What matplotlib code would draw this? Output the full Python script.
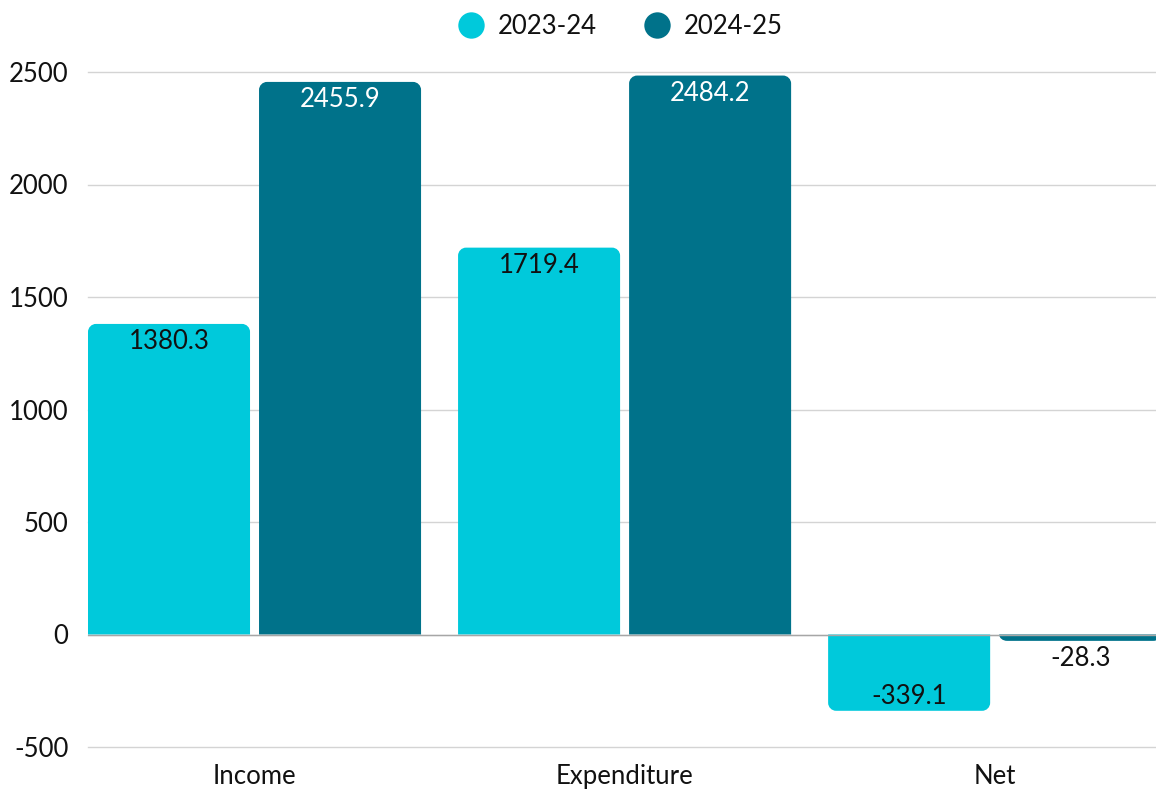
import numpy as np
import matplotlib.pyplot as plt
from matplotlib.path import Path
from matplotlib.patches import PathPatch
from matplotlib.lines import Line2D

plt.rcParams['font.family'] = ['Lato', 'DejaVu Sans']
plt.rcParams['axes.unicode_minus'] = False

categories = ['Income', 'Expenditure', 'Net']
series = ['2023-24', '2024-25']
values_2023 = [1380.3, 1719.4, -339.1]
values_2024 = [2455.9, 2484.2, -28.3]
colors = ['#00C9DB', '#00728A']
label_colors = ['#111111', '#ffffff']
FS = 18.5


def rounded_path(x0, x1, base, top, rx, ry):
    # rounded corners only at the far end of the bar
    s = 1 if top >= base else -1
    ry = min(ry, abs(top - base))
    k = 0.5523
    verts = [
        (x0, base),
        (x0, top - s * ry),
        (x0, top - s * ry * (1 - k)), (x0 + rx * (1 - k), top), (x0 + rx, top),
        (x1 - rx, top),
        (x1 - rx * (1 - k), top), (x1, top - s * ry * (1 - k)), (x1, top - s * ry),
        (x1, base),
        (x0, base),
    ]
    codes = [Path.MOVETO, Path.LINETO,
             Path.CURVE4, Path.CURVE4, Path.CURVE4,
             Path.LINETO,
             Path.CURVE4, Path.CURVE4, Path.CURVE4,
             Path.LINETO, Path.CLOSEPOLY]
    return Path(verts, codes)


fig = plt.figure(figsize=(11.56, 7.90), dpi=100)
ax = fig.add_axes([88 / 1156, 43 / 790, 1068 / 1156, 675 / 790])

x = np.arange(len(categories))
width = 162 / 370
offset = 85.5 / 370

ax.set_xlim(-0.45, 2.436)
ax.set_ylim(-500, 2500)

px_x = (ax.get_xlim()[1] - ax.get_xlim()[0]) / 1068
px_y = (ax.get_ylim()[1] - ax.get_ylim()[0]) / 675
radius = 8

for i, vals in enumerate([values_2023, values_2024]):
    bars = ax.bar(x + (i - 0.5) * 2 * offset, vals, width, color=colors[i])
    for rect, v in zip(bars, vals):
        rect.set_visible(False)
        x0 = rect.get_x()
        x1 = x0 + rect.get_width()
        p = rounded_path(x0, x1, 0, v, radius * px_x, radius * px_y)
        ax.add_patch(PathPatch(p, facecolor=colors[i], edgecolor='none', zorder=2))
        cx = x0 + rect.get_width() / 2
        if v >= 0:
            dy, c = -25, label_colors[i]
        elif abs(v) / px_y > 40:
            dy, c = 7, '#111111'
        else:
            dy, c = -25, '#111111'
        ax.annotate(f'{v:.1f}', (cx, v), xytext=(0, dy * 0.72), textcoords='offset points',
                    ha='center', va='baseline', fontsize=FS, color=c)

ax.set_yticks([-500, 0, 500, 1000, 1500, 2000, 2500])
ax.grid(axis='y', color='#d4d4d4', linewidth=1, zorder=0)
for gl in ax.get_ygridlines():
    gl.set_clip_on(False)
ax.set_axisbelow(True)
ax.axhline(0, color='#a6a6a6', linewidth=1, zorder=3)
ax.set_xticks(x)
ax.set_xticklabels(categories)
for s in ax.spines.values():
    s.set_visible(False)
ax.tick_params(axis='y', length=0, pad=14, labelsize=FS, labelcolor='#111111')
ax.tick_params(axis='x', length=0, pad=12, labelsize=FS, labelcolor='#111111')

handles = [Line2D([], [], marker='o', linestyle='none', markersize=19,
                  markerfacecolor=c, markeredgecolor='none') for c in colors]
fig.legend(handles, series, loc='upper center', bbox_to_anchor=(0.5368, 1.012), ncol=2,
           frameon=False, fontsize=FS, handletextpad=0.55, columnspacing=1.85,
           handlelength=1.0, labelcolor='#111111')

fig.savefig('out.png', dpi=100)
